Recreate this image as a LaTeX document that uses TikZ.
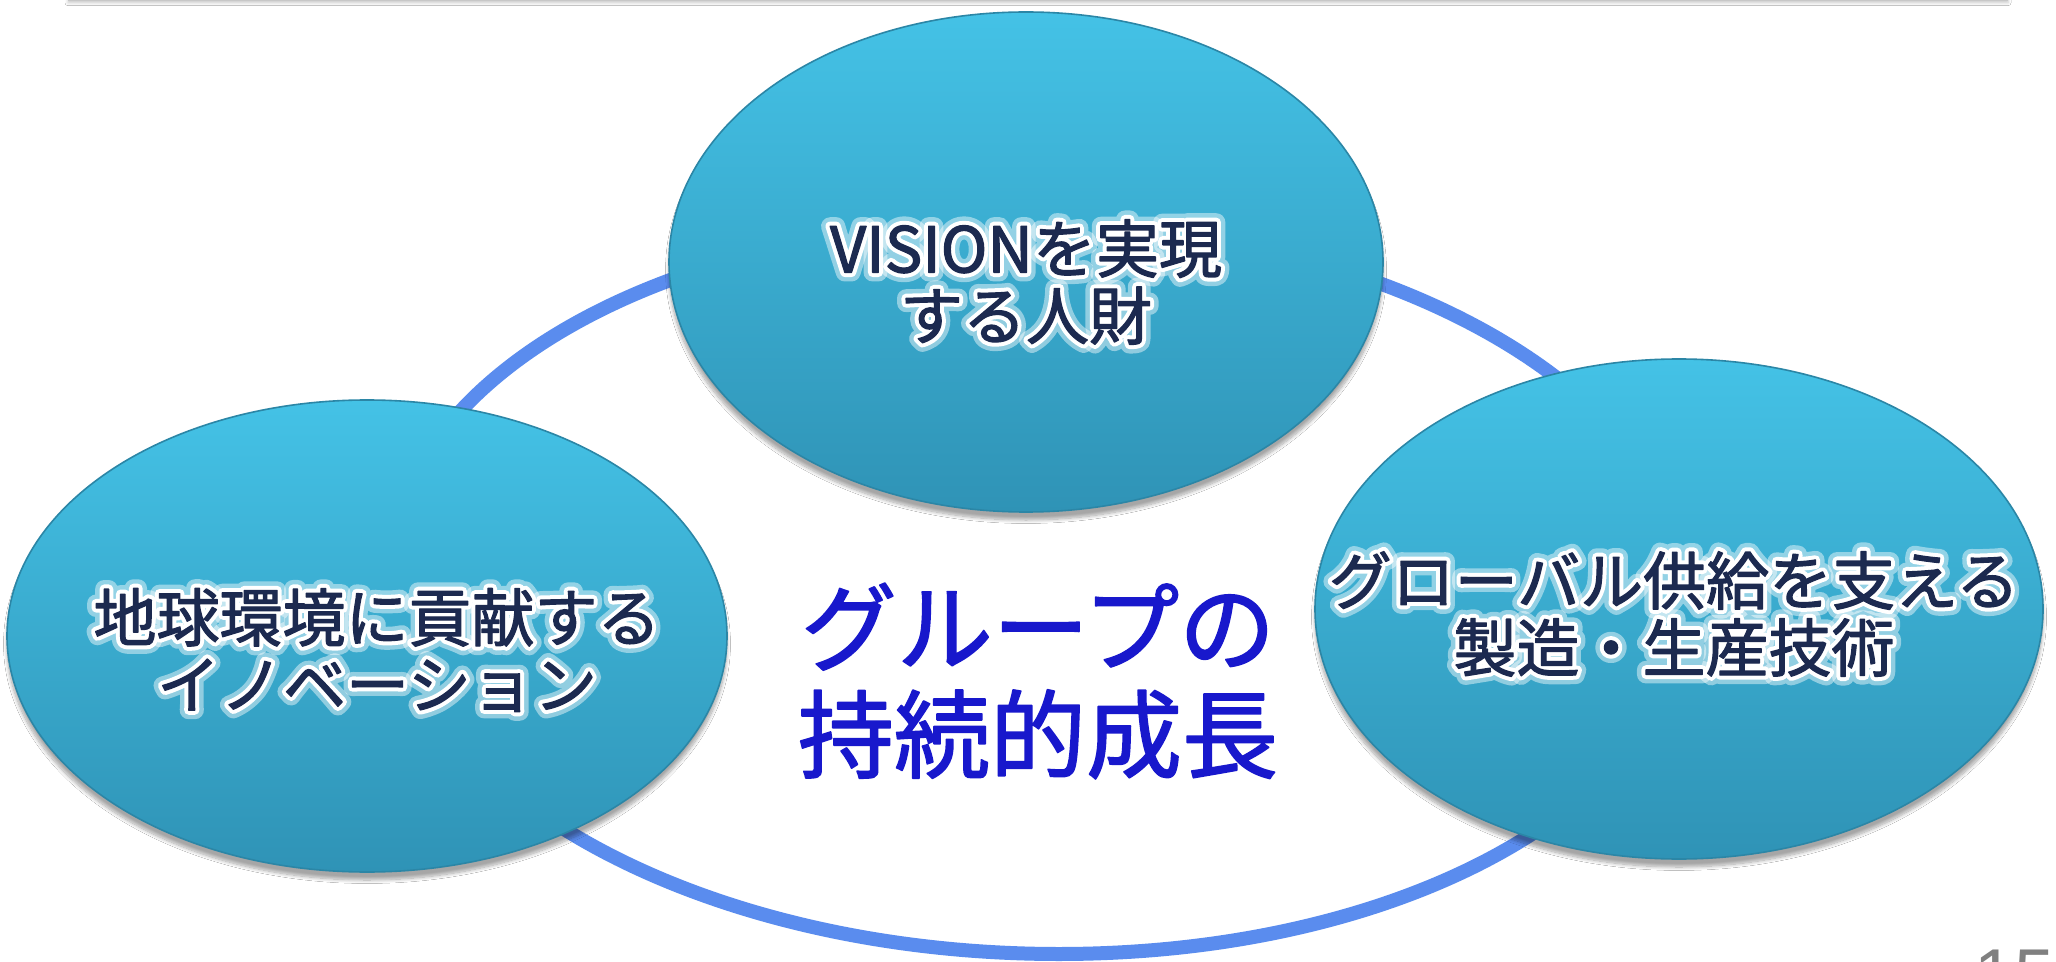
\documentclass[tikz,border=0pt]{standalone}
\usepackage{fontspec}
\newfontfamily\jp{Noto Sans CJK JP}
\newfontfamily\numfont{Liberation Sans}
\usetikzlibrary{shapes.geometric,shadows.blur,calc}
\definecolor{ringblue}{HTML}{5A8CEE}
\definecolor{bubtop}{HTML}{44C2E6}
\definecolor{bubbot}{HTML}{2F93B6}
\definecolor{bubedge}{HTML}{2B86A6}
\definecolor{navy}{HTML}{1C2A50}
\definecolor{centreblue}{HTML}{1818CC}
\definecolor{pagegray}{HTML}{808080}
\tikzset{
  bubble/.style={ellipse, inner sep=0pt, shade, top color=bubtop, bottom color=bubbot,
    draw=bubedge, line width=0.8pt,
    blur shadow={shadow xshift=0pt, shadow yshift=-4pt, shadow blur steps=10, shadow opacity=35}},
  ringline/.style={ellipse, draw=ringblue, line width=7pt, inner sep=0pt},
  bubtext/.style={font=\jp\fontsize{31.5}{33.5}\selectfont, text=navy, align=center, inner sep=0pt},
  centretext/.style={font=\jp\fontsize{48}{53.5}\selectfont, text=centreblue, align=center, inner sep=0pt},
  topbar/.style={fill=black!22, blur shadow={shadow xshift=0pt, shadow yshift=-0.6pt, shadow blur steps=4, shadow blur radius=1.5pt, shadow opacity=22}}
}
% text stroked in its own colour (heavier weight)
\newcommand\strk[3]{\special{pdf:literal direct 1 j #1 RG #2 w 2 Tr}#3\special{pdf:literal direct 0 Tr}}
% white halo behind text
\newcommand\halo[2]{\special{pdf:literal direct 1 j 1 1 1 RG #1 w 2 Tr}#2\special{pdf:literal direct 0 Tr}}
\newcommand\bublabel[4]{%
  \node[bubtext, text=white, opacity=0.45] (#1-outer) at (#2) {\halo{9}{#3}\\\halo{9}{#4}};
  \node[bubtext, text=white] (#1-inner) at (#2) {\halo{4.6}{#3}\\\halo{4.6}{#4}};
  \node[bubtext] (#1) at (#2) {\strk{0.11 0.16 0.31}{0.6}{#3}\\\strk{0.11 0.16 0.31}{0.6}{#4}};}
\begin{document}
\begin{tikzpicture}[x=0.5pt,y=-0.5pt]
\useasboundingbox (0,0) rectangle (2056,962);
\fill[white] (0,0) rectangle (2056,962);
% top bar
\path[topbar] (68,-20) rectangle (2008,1.5);
% ring (slightly sheared ellipse) behind the bubbles
\begin{scope}[shift={(1038,588)}, xslant=-0.057]
  \node[ringline, transform shape, minimum width=648pt, minimum height=366pt] (ring) at (0,0) {};
\end{scope}
% bubbles
\node[bubble, minimum width=357pt, minimum height=250pt] (top) at (1026,262) {};
\node[bubble, minimum width=360pt, minimum height=236pt] (left) at (367,636) {};
\node[bubble, minimum width=364pt, minimum height=250pt] (right) at (1679,609) {};
% labels
\coordinate (topc) at (1026,282);
\coordinate (leftc) at (377,650);
\coordinate (rightc) at (1674,614);
\bublabel{toplab}{topc}{VISIONを実現}{する人財}
\bublabel{leftlab}{leftc}{地球環境に貢献する}{イノベーション}
\bublabel{rightlab}{rightc}{グローバル供給を支える}{製造・生産技術}
\node[centretext] (centre) at (1038,681) {\strk{0.094 0.094 0.8}{0.8}{グループの}\\\strk{0.094 0.094 0.8}{0.8}{持続的成長}};
% page number
\node[anchor=base west, inner sep=0pt, text=pagegray, font=\numfont\fontsize{36}{36}\selectfont] (pagenum) at (1974,999) {15};
\end{tikzpicture}
\end{document}
